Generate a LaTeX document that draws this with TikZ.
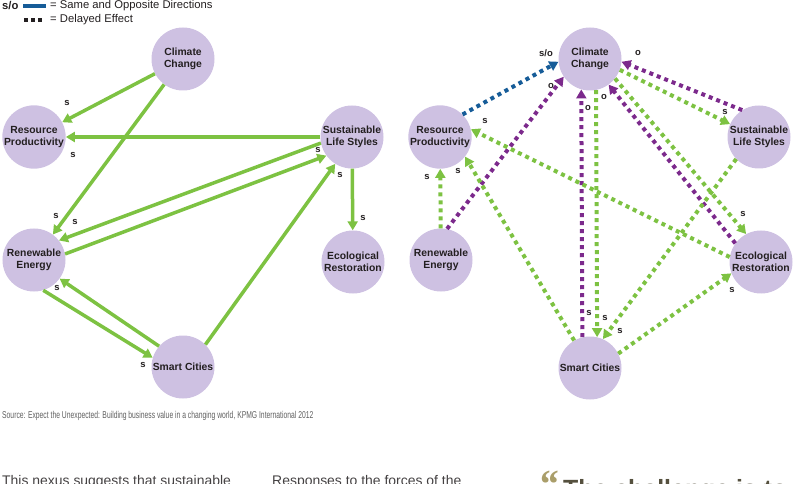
\documentclass[tikz,border=0pt]{standalone}
\usepackage{fontspec}
\setmainfont{Liberation Sans}
\newfontfamily\nexuscond[FakeStretch=0.68]{Liberation Sans}
\newfontfamily\nexusserif{Liberation Serif}
\usetikzlibrary{arrows.meta}
\definecolor{nexuslav}{RGB}{206,193,226}
\definecolor{nexusgreen}{RGB}{125,194,66}
\definecolor{nexuspurple}{RGB}{124,42,140}
\definecolor{nexusblue}{RGB}{22,92,152}
\definecolor{nexustext}{RGB}{35,31,32}
\definecolor{nexusgray}{RGB}{95,95,95}
\definecolor{nexusolive}{RGB}{170,158,106}
\definecolor{nexusquote}{RGB}{85,80,62}

\begin{document}
\begin{tikzpicture}[x=1bp, y=-1bp,
  nexusnode/.style = {circle, fill=nexuslav, minimum size=63bp, inner sep=0pt, align=center, text=nexustext, font=\bfseries\fontsize{10.4}{11.8}\selectfont},
  nexuslink/.style = {-{Triangle[length=9bp,width=10bp]}, line width=3.5bp, draw=nexusgreen},
  nexusdly/.style = {-{Triangle[length=9bp,width=10bp]}, line width=4bp, dash pattern=on 4bp off 4bp},
  nexusdlys/.style = {nexusdly, draw=nexusgreen},
  nexusdlyo/.style = {nexusdly, draw=nexuspurple},
  nexusdlyso/.style = {nexusdly, draw=nexusblue},
  nexuslbl/.style = {inner sep=0pt, text=nexustext, font=\bfseries\fontsize{9.5}{11}\selectfont},
  nexuslegend/.style = {anchor=west, inner sep=0pt, text=nexustext, font=\fontsize{11.3}{13}\selectfont}
]
  \useasboundingbox (0,0) rectangle (797,484);
  \clip (0,0) rectangle (797,484);

  % legend
  \node[nexuslegend, font=\bfseries\fontsize{11.3}{13}\selectfont] (legso) at (2,6) {s/o};
  \coordinate (legbluea) at (23,6);
  \coordinate (legblueb) at (46,6);
  \draw[nexusblue, line width=4bp] (legbluea) -- (legblueb);
  \node[nexuslegend] (legsame) at (50,6) {= Same and Opposite Directions};
  \coordinate (legdota) at (24,20);
  \coordinate (legdotb) at (45,20);
  \draw[nexustext, line width=4bp, dash pattern=on 4bp off 3bp] (legdota) -- (legdotb);
  \node[nexuslegend] (legdelay) at (50,20) {= Delayed Effect};

  % direct effects
  \begin{scope}[shift={(0,0)}]
    \node[nexusnode] (cc1) at (183,59) {Climate\\Change};
    \node[nexusnode] (rp1) at (34,137) {Resource\\Productivity};
    \node[nexusnode] (sls1) at (352,137) {Sustainable\\Life Styles};
    \node[nexusnode] (re1) at (34,260) {Renewable\\Energy};
    \node[nexusnode] (er1) at (353,262) {Ecological\\Restoration};
    \node[nexusnode] (sc1) at (183,367) {Smart Cities};
    \draw[nexuslink] (cc1) -- (rp1);
    \draw[nexuslink] (cc1) -- (re1);
    \draw[nexuslink] (sls1) -- (rp1);
    \draw[nexuslink] (sls1.191) -- (re1.38);
    \draw[nexuslink] (re1.11) -- (sls1.216);
    \draw[nexuslink] (sc1.45) -- (sls1.238);
    \draw[nexuslink] (sls1) -- (er1);
    \draw[nexuslink] (re1.287) -- (sc1.163);
    \draw[nexuslink] (sc1.139) -- (re1.324);
    \node[nexuslbl] (la1) at (67,103) {s};
    \node[nexuslbl] (la2) at (73,155) {s};
    \node[nexuslbl] (la3) at (56,216) {s};
    \node[nexuslbl] (la4) at (75,222) {s};
    \node[nexuslbl] (la5) at (57,288) {s};
    \node[nexuslbl] (la6) at (143,365) {s};
    \node[nexuslbl] (la7) at (318,150) {s};
    \node[nexuslbl] (la8) at (340,175) {s};
    \node[nexuslbl] (la9) at (363,218) {s};
  \end{scope}

  % delayed effects
  \begin{scope}[shift={(407,0)}]
    \node[nexusnode] (cc2) at (183,59) {Climate\\Change};
    \node[nexusnode] (rp2) at (33,137) {Resource\\Productivity};
    \node[nexusnode] (sls2) at (352,137) {Sustainable\\Life Styles};
    \node[nexusnode] (re2) at (34,260) {Renewable\\Energy};
    \node[nexusnode] (er2) at (354,262) {Ecological\\Restoration};
    \node[nexusnode] (sc2) at (183,368) {Smart Cities};
    \draw[nexusdlyso] (rp2.45) -- (cc2.185);
    \draw[nexusdlyo] (re2.79) -- (cc2.214);
    \draw[nexusdlyo] (sc2.104) -- (cc2.254);
    \draw[nexusdlys] (cc2.281) -- (sc2.77);
    \draw[nexusdlyo] (er2.144) -- (cc2.306);
    \draw[nexusdlys] (cc2.322) -- (er2.118);
    \draw[nexusdlyo] (sls2.122) -- (cc2.355);
    \draw[nexusdlys] (cc2.340) -- (sls2.156);
    \draw[nexusdlys] (er2.171) -- (rp2.14);
    \draw[nexusdlys] (re2) -- (rp2);
    \draw[nexusdlys] (sc2.120) -- (rp2.322);
    \draw[nexusdlys] (sls2.224) -- (sc2.66);
    \draw[nexusdlys] (sc2.27) -- (er2.201);
    \node[nexuslbl] (lb1) at (139,53) {s/o};
    \node[nexuslbl] (lb2) at (144,86) {o};
    \node[nexuslbl] (lb3) at (181,108) {o};
    \node[nexuslbl] (lb4) at (197,97) {o};
    \node[nexuslbl] (lb5) at (231,53) {o};
    \node[nexuslbl] (lb6) at (318,112) {s};
    \node[nexuslbl] (lb7) at (78,121) {s};
    \node[nexuslbl] (lb8) at (20,177) {s};
    \node[nexuslbl] (lb9) at (51,171) {s};
    \node[nexuslbl] (lb10) at (336,214) {s};
    \node[nexuslbl] (lb11) at (325,290) {s};
    \node[nexuslbl] (lb12) at (182,313) {s};
    \node[nexuslbl] (lb13) at (198,318) {s};
    \node[nexuslbl] (lb14) at (213,331) {s};
  \end{scope}

  % source and page text
  \node[anchor=west, inner sep=0pt, text=nexusgray, font=\nexuscond\fontsize{10}{12}\selectfont] (source) at (2,416)
    {Source: Expect the Unexpected: Building business value in a changing world, KPMG International 2012};
  \node[anchor=base west, inner sep=0pt, text=nexustext!85, font=\fontsize{14}{16}\selectfont] (bodya) at (2,485)
    {This nexus suggests that sustainable};
  \node[anchor=base west, inner sep=0pt, text=nexustext!85, font=\fontsize{14}{16}\selectfont] (bodyb) at (272,485)
    {Responses to the forces of the};
  \node[anchor=base west, inner sep=0pt, text=nexusolive, font=\nexusserif\bfseries\itshape\fontsize{40}{42}\selectfont] (quotemark) at (538,497) {“};
  \node[anchor=base west, inner sep=0pt, text=nexusquote, font=\bfseries\fontsize{25}{28}\selectfont] (quote) at (563,497)
    {The challenge is to};
\end{tikzpicture}
\end{document}
